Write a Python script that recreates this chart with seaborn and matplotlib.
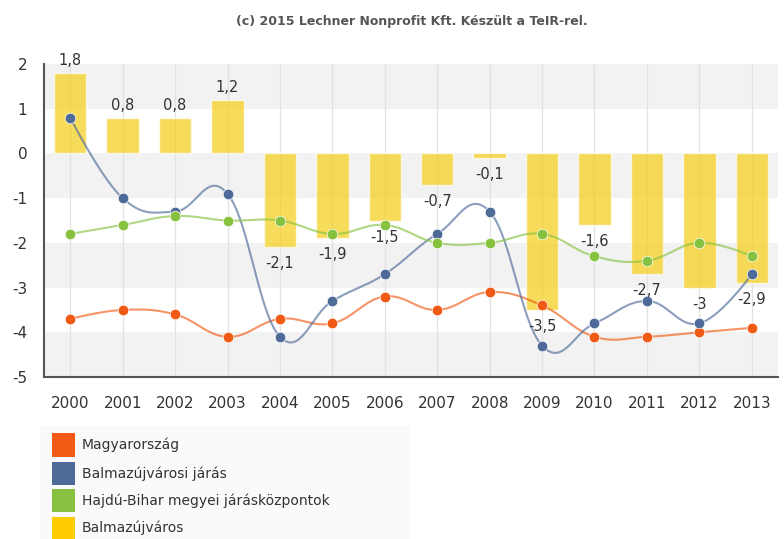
import numpy as np
import matplotlib
matplotlib.use('Agg')
import matplotlib.pyplot as plt
from matplotlib.patches import Rectangle
import seaborn as sns

years = ['2000', '2001', '2002', '2003', '2004', '2005', '2006',
         '2007', '2008', '2009', '2010', '2011', '2012', '2013']
balmazujvaros = [1.8, 0.8, 0.8, 1.2, -2.1, -1.9, -1.5, -0.7, -0.1, -3.5, -1.6, -2.7, -3.0, -2.9]
magyarorszag = [-3.7, -3.5, -3.6, -4.1, -3.7, -3.8, -3.2, -3.5, -3.1, -3.4, -4.1, -4.1, -4.0, -3.9]
jaras = [0.8, -1.0, -1.3, -0.9, -4.1, -3.3, -2.7, -1.8, -1.3, -4.3, -3.8, -3.3, -3.8, -2.7]
jaraskozpontok = [-1.8, -1.6, -1.4, -1.5, -1.5, -1.8, -1.6, -2.0, -2.0, -1.8, -2.3, -2.4, -2.0, -2.3]

names = ['Magyarország', 'Balmazújvárosi járás', 'Hajdú-Bihar megyei járásközpontok', 'Balmazújváros']
colors = ['#F05A14', '#4D6A98', '#86C23F', '#FFCC00']

W, H = 784, 539


def spline(xs, ys, smoothing=1.5, steps=20):
    # old-style highcharts spline (no clamping of control points)
    xs = np.asarray(xs, float)
    ys = np.asarray(ys, float)
    n = len(xs)
    lc = [(xs[i], ys[i]) for i in range(n)]
    rc = [(xs[i], ys[i]) for i in range(n)]
    d = smoothing + 1
    for i in range(1, n - 1):
        lx = (smoothing * xs[i] + xs[i - 1]) / d
        ly = (smoothing * ys[i] + ys[i - 1]) / d
        rx = (smoothing * xs[i] + xs[i + 1]) / d
        ry = (smoothing * ys[i] + ys[i + 1]) / d
        corr = (ry - ly) * (rx - xs[i]) / (rx - lx) + ys[i] - ry
        lc[i] = (lx, ly + corr)
        rc[i] = (rx, ry + corr)
    t = np.linspace(0, 1, steps)
    px, py = [], []
    for i in range(1, n):
        p0 = (xs[i - 1], ys[i - 1]); p1 = rc[i - 1]; p2 = lc[i]; p3 = (xs[i], ys[i])
        bx = (1-t)**3*p0[0] + 3*(1-t)**2*t*p1[0] + 3*(1-t)*t**2*p2[0] + t**3*p3[0]
        by = (1-t)**3*p0[1] + 3*(1-t)**2*t*p1[1] + 3*(1-t)*t**2*p2[1] + t**3*p3[1]
        px.extend(bx); py.extend(by)
    return np.array(px), np.array(py)


sns.set_style('white')
plt.rcParams['font.family'] = ['DejaVu Sans']
plt.rcParams['axes.unicode_minus'] = False

fig = plt.figure(figsize=(W / 100, H / 100), dpi=100)
ax = fig.add_axes([44 / W, 1 - 377 / H, (778 - 44) / W, (377 - 64) / H])

for lo, hi in [(1, 2), (-1, 0), (-3, -2), (-5, -4)]:
    ax.axhspan(lo, hi, color='#F2F2F2', zorder=0, lw=0)

pos = np.arange(len(years))
for p in pos:
    ax.axvline(p, color='#E2E2E2', lw=0.9, zorder=0.5)

sns.barplot(x=years, y=balmazujvaros, color='#F5CD14', alpha=0.7, saturation=1,
            width=0.62, ax=ax, zorder=2)

for vals, col in zip([magyarorszag, jaras, jaraskozpontok], colors[:3]):
    sx, sy = spline(pos, vals)
    ax.plot(sx, sy, color=col, alpha=0.65, lw=1.5, zorder=3)
    sns.scatterplot(x=pos, y=vals, color=col, s=58, edgecolor='#FFFFFF', linewidth=0.5,
                    alpha=1, ax=ax, zorder=4, legend=False)

for p, v in zip(pos, balmazujvaros):
    lab = f'{v:g}'.replace('.', ',')
    if v >= 0:
        ax.annotate(lab, (p, v), xytext=(0, 5), textcoords='offset pixels',
                    ha='center', va='bottom', fontsize=10.5, color='#333333',
                    zorder=5, annotation_clip=False)
    else:
        ax.annotate(lab, (p, v), xytext=(0, -9), textcoords='offset pixels',
                    ha='center', va='top', fontsize=10.5, color='#333333', zorder=5)

ax.set_xlim(-0.5, len(years) - 0.5)
ax.set_ylim(-5, 2)
ax.set_yticks(range(-5, 3))
ax.set_xticks(pos)
ax.set_xticklabels(years)
ax.set_xlabel('')
ax.set_ylabel('')
for s in ['top', 'right']:
    ax.spines[s].set_visible(False)
for s in ['left', 'bottom']:
    ax.spines[s].set_color('#555555')
    ax.spines[s].set_linewidth(1.5)
ax.tick_params(axis='both', length=6, width=1.2, color='#555555', labelsize=11,
               labelcolor='#333333', pad=8)
ax.tick_params(axis='y', length=8, pad=4)

fig.text(412 / W, 1 - 22 / H, '(c) 2015 Lechner Nonprofit Kft. Készült a TeIR-rel.',
         ha='center', va='center', fontsize=9, fontweight='bold', color='#555555')

# legend
fig.add_artist(Rectangle((40 / W, 0), (410 - 40) / W, 1 - 426 / H,
                         transform=fig.transFigure, color='#FAFAFA', lw=0, zorder=0))
legend_rows = [(433, 457), (462, 485), (489, 512), (517, 539)]
for (y0, y1), name, col in zip(legend_rows, names, colors):
    fig.add_artist(Rectangle((52 / W, 1 - y1 / H), 23 / W, (y1 - y0) / H,
                             transform=fig.transFigure, color=col, lw=0))
    fig.text(82 / W, 1 - ((y0 + y1) / 2) / H, name, ha='left', va='center',
             fontsize=10, color='#333333')

fig.savefig('out.png', dpi=100)
